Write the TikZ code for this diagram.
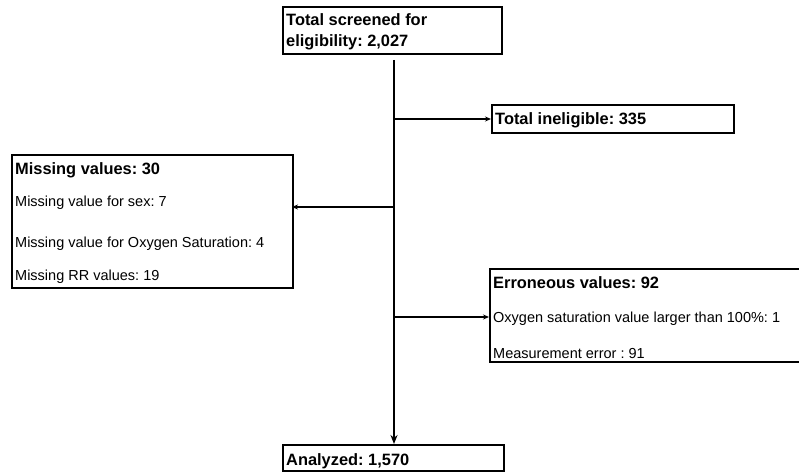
\documentclass[tikz,border=0pt]{standalone}
\usepackage{fontspec}
\setmainfont{Liberation Sans}
\usetikzlibrary{arrows.meta}
\frenchspacing
\begin{document}
\begin{tikzpicture}[x=1pt,y=-1pt,
  boxframe/.style={draw=black,line width=2pt,inner sep=0pt},
  headtxt/.style={anchor=base west,inner sep=0pt,font=\fontsize{16.4}{20}\selectfont\bfseries},
  bodytxt/.style={anchor=base west,inner sep=0pt,font=\fontsize{14.5}{18}\selectfont},
  trunk/.style={line width=2.5pt,-{Stealth[length=9pt,width=7pt]}},
  branch/.style={line width=1.3pt,-{Stealth[length=6pt,width=5pt]}}]
\clip (0,0) rectangle (799,473);
\useasboundingbox (0,0) rectangle (799,473);
% boxes
\draw[boxframe] (283,7) rectangle (502,54);
\coordinate (topS) at (394,60);
\draw[boxframe] (492,105) rectangle (734,133);
\coordinate (inelW) at (491,119);
\draw[boxframe] (12,155) rectangle (293,288);
\coordinate (missE) at (292,207);
\draw[boxframe] (490,269) rectangle (812,362);
\coordinate (errW) at (489,317);
\draw[boxframe] (283,445) rectangle (504,471);
\coordinate (anaN) at (394,444);
% texts
\node[headtxt] (t1) at (286,26) {Total screened for};
\node[headtxt] (t2) at (286,47) {eligibility: 2,027};
\node[headtxt] (t3) at (495,125) {Total ineligible: 335};
\node[headtxt] (m0) at (15,174) {Missing values: 30};
\node[bodytxt] (m1) at (15,206) {Missing value for sex: 7};
\node[bodytxt] (m2) at (15,247) {Missing value for Oxygen Saturation: 4};
\node[bodytxt] (m3) at (15,280) {Missing RR values: 19};
\node[headtxt] (e0) at (493,288) {Erroneous values: 92};
\node[bodytxt] (e1) at (493,322) {Oxygen saturation value larger than 100\%: 1};
\node[bodytxt] (e2) at (493,358) {Measurement error : 91};
\node[headtxt] (a0) at (286,465) {Analyzed: 1,570};
% connectors
\coordinate (j1) at (394,119);
\coordinate (j2) at (394,207);
\coordinate (j3) at (394,317);
\draw[trunk] (topS) -- (anaN);
\draw[branch] (j1) -- (inelW);
\draw[branch] (j2) -- (missE);
\draw[branch] (j3) -- (errW);
\end{tikzpicture}
\end{document}
